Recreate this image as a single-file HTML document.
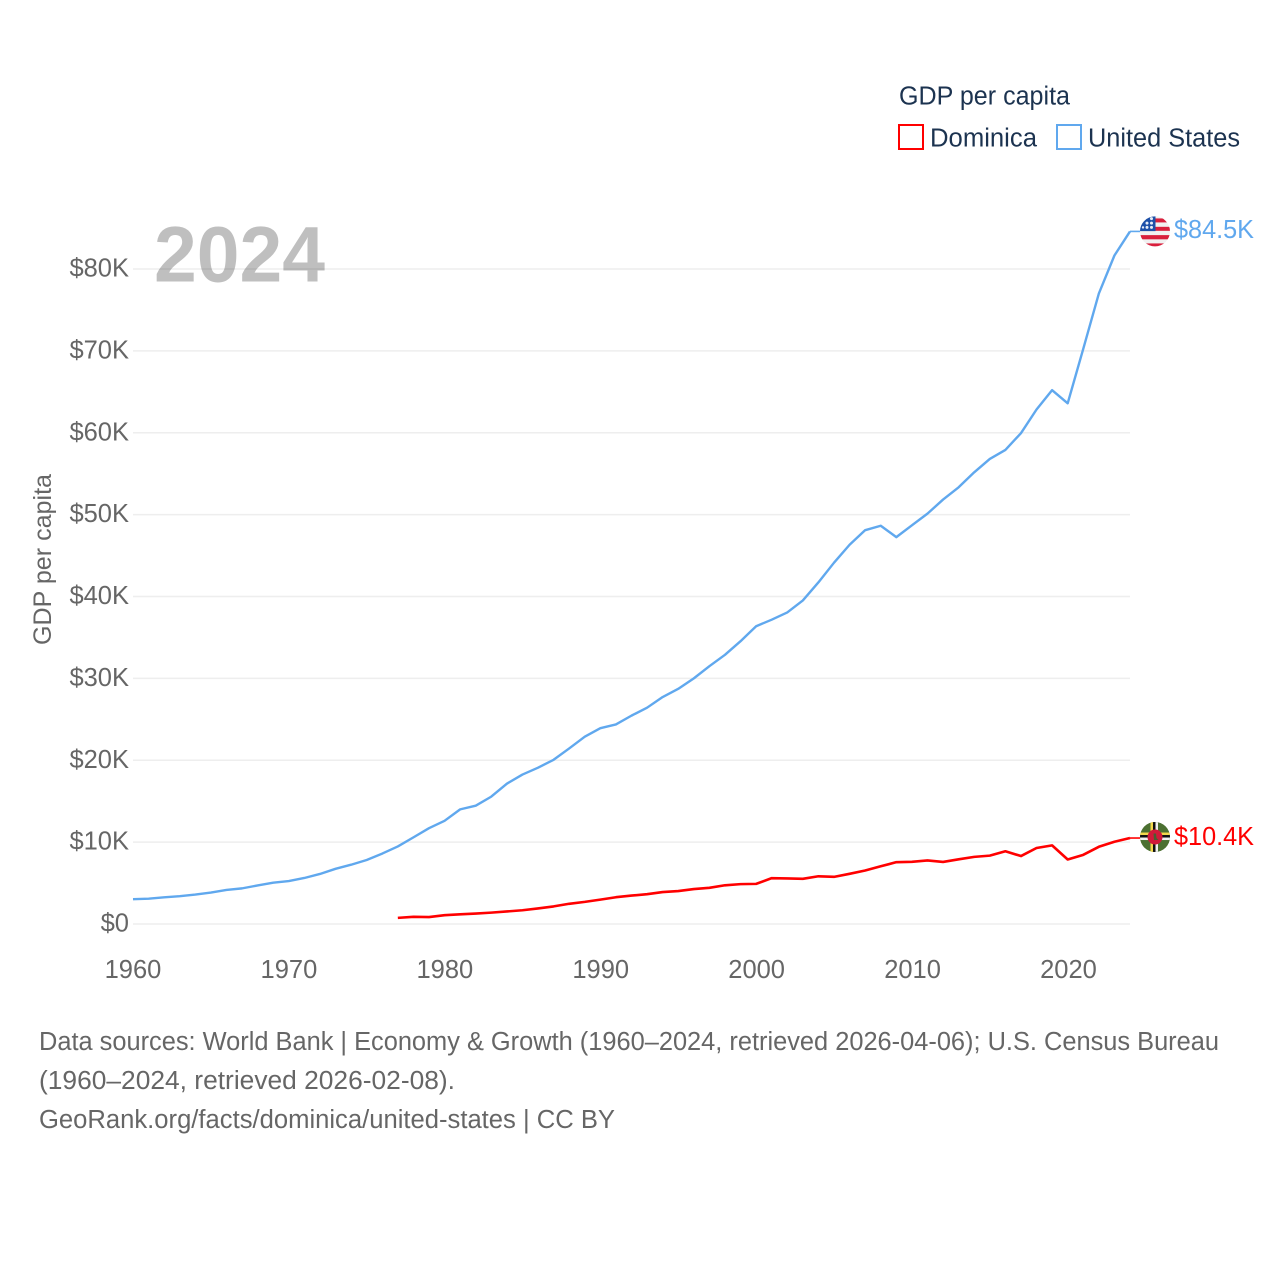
<!DOCTYPE html>
<html lang="en">
<head>
<meta charset="utf-8">
<title>GDP per capita: Dominica and United States</title>
<style>
html,body{margin:0;padding:0;background:#fff}
svg{display:block}
text{font-family:"Liberation Sans",sans-serif}
</style>
</head>
<body>
<svg id="chart" xmlns="http://www.w3.org/2000/svg" width="1280" height="1280" viewBox="0 0 1280 1280">
  <defs>
    <clipPath id="flag-clip-us"><circle cx="1155" cy="231.3" r="15"/></clipPath>
    <clipPath id="flag-clip-dm"><circle cx="1155" cy="837" r="15"/></clipPath>
  </defs>
  <g id="grid"></g>
  <g id="y-ticks"></g>
  <g id="x-ticks"></g>
  <text x="154" y="281.5" font-size="79" font-weight="700" fill="#000000" fill-opacity="0.25" textLength="171" lengthAdjust="spacingAndGlyphs">2024</text>
  <text transform="translate(51,645) rotate(-90)" font-size="25" fill="#666666" textLength="171" lengthAdjust="spacingAndGlyphs">GDP per capita</text>
  <g id="series"></g>
  <g id="flags">
    <g id="flag-us">
      <g clip-path="url(#flag-clip-us)">
        <rect x="1140" y="216" width="30" height="31" fill="#f1f1f1"/>
        <rect x="1155" y="218.3" width="15" height="4" fill="#d91f3c"/>
        <rect x="1155" y="226.7" width="15" height="4" fill="#d91f3c"/>
        <rect x="1140" y="235" width="30" height="4.2" fill="#d91f3c"/>
        <rect x="1140" y="243.3" width="30" height="4" fill="#d91f3c"/>
        <rect x="1140" y="216" width="15.5" height="15" fill="#1e50a8"/>
        <g fill="#e8edf6">
          <circle cx="1151.5" cy="218.5" r="1.5"/>
          <circle cx="1147" cy="223" r="1.5"/>
          <circle cx="1151.5" cy="223" r="1.5"/>
          <circle cx="1147" cy="227.3" r="1.5"/>
          <circle cx="1151.5" cy="227.3" r="1.5"/>
          <circle cx="1143" cy="227.3" r="1.2"/>
        </g>
      </g>
    </g>
    <g id="flag-dm">
      <g clip-path="url(#flag-clip-dm)">
        <rect x="1140" y="822" width="30" height="30" fill="#4c7031"/>
        <rect x="1140" y="832.5" width="30" height="2.5" fill="#f3d84c"/>
        <rect x="1140" y="835" width="30" height="2.5" fill="#111111"/>
        <rect x="1140" y="837.5" width="30" height="2.5" fill="#f1f1f1"/>
        <rect x="1150.5" y="822" width="2.5" height="30" fill="#f3d84c"/>
        <rect x="1153" y="822" width="2.5" height="30" fill="#111111"/>
        <rect x="1155.5" y="822" width="2.5" height="30" fill="#f1f1f1"/>
        <circle cx="1155" cy="837" r="7.5" fill="#d01a3a"/>
        <path d="M1153.5 833.5 L1156 833.5 L1156.5 838 L1158.5 840 L1154 840 Z" fill="#4a5c30"/>
      </g>
    </g>
  </g>
  <g id="end-labels"></g>
  <g>
    <text x="899" y="104.5" font-size="25.5" fill="#1c3350" textLength="171" lengthAdjust="spacingAndGlyphs">GDP per capita</text>
    <g>
      <rect x="899" y="125" width="24" height="24" fill="#fff" stroke="#ff0000" stroke-width="2"/>
      <text x="930" y="146.3" font-size="25.5" fill="#1c3350" textLength="107" lengthAdjust="spacingAndGlyphs">Dominica</text>
    </g>
    <g>
      <rect x="1057" y="125" width="24" height="24" fill="#fff" stroke="#60a8ee" stroke-width="2"/>
      <text x="1088" y="146.3" font-size="25.5" fill="#1c3350" textLength="152" lengthAdjust="spacingAndGlyphs">United States</text>
    </g>
  </g>
  <g font-size="25.5" fill="#666666">
    <text x="39" y="1050" textLength="1180" lengthAdjust="spacingAndGlyphs">Data sources: World Bank | Economy &amp; Growth (1960–2024, retrieved 2026-04-06); U.S. Census Bureau</text>
    <text x="39" y="1089" textLength="416" lengthAdjust="spacingAndGlyphs">(1960–2024, retrieved 2026-02-08).</text>
    <text x="39" y="1128" textLength="576" lengthAdjust="spacingAndGlyphs">GeoRank.org/facts/dominica/united-states | CC BY</text>
  </g>
</svg>
<script>
var yTickValues = [0, 10000, 20000, 30000, 40000, 50000, 60000, 70000, 80000];
var yTickLabels = ["$0", "$10K", "$20K", "$30K", "$40K", "$50K", "$60K", "$70K", "$80K"];
var xTickYears = [1960, 1970, 1980, 1990, 2000, 2010, 2020];
var usStartYear = 1960;
var usValues = [3030, 3090, 3260, 3390, 3590, 3840, 4160, 4350, 4710, 5050, 5250, 5620, 6110, 6740, 7240, 7820, 8600, 9470, 10580, 11700, 12600, 14000, 14450, 15560, 17140, 18250, 19090, 20060, 21440, 22880, 23920, 24370, 25450, 26420, 27720, 28720, 30000, 31490, 32880, 34540, 36370, 37170, 38050, 39520, 41730, 44130, 46320, 48100, 48640, 47250, 48700, 50120, 51840, 53340, 55170, 56800, 57900, 59950, 62840, 65200, 63600, 70250, 77000, 81650, 84590];
var usEndLabel = ["$84.5K"];
var dominicaStartYear = 1977;
var dominicaValues = [750, 880, 850, 1080, 1180, 1270, 1390, 1530, 1680, 1900, 2150, 2470, 2700, 2980, 3270, 3470, 3640, 3900, 4020, 4270, 4420, 4730, 4870, 4900, 5600, 5570, 5520, 5830, 5760, 6130, 6530, 7050, 7550, 7600, 7760, 7580, 7900, 8200, 8350, 8880, 8300, 9280, 9600, 7880, 8450, 9430, 10050, 10500];
var dominicaEndLabel = ["$10.4K"];

var NS = "http://www.w3.org/2000/svg";
function xScale(year) { return 133 + (year - 1960) * (1130 - 133) / 64; }
function yScale(value) { return 924 - value * 655 / 80000; }
function make(tag, parent, attrs) {
  var el = document.createElementNS(NS, tag);
  for (var k in attrs) { el.setAttribute(k, attrs[k]); }
  parent.appendChild(el);
  return el;
}
function pathFor(startYear, values) {
  return values.map(function (v, i) {
    return (i ? "L" : "M") + xScale(startYear + i).toFixed(2) + " " + yScale(v).toFixed(2);
  }).join(" ");
}
var gridG = document.getElementById("grid");
var yG = document.getElementById("y-ticks");
var xG = document.getElementById("x-ticks");
var seriesG = document.getElementById("series");
var labelG = document.getElementById("end-labels");
var lastYear = xScale(2024);

yTickValues.forEach(function (v, i) {
  var line = make("line", gridG, { x1: 133, x2: lastYear, y1: yScale(v), y2: yScale(v), stroke: "#eeeeee", "stroke-width": 1.6 });
  
  
  var t = make("text", yG, { x: 129, y: yScale(v) + 7.6, "text-anchor": "end", "font-size": 25.5, fill: "#666666" });
  
  
  t.textContent = yTickLabels[i];
});
xTickYears.forEach(function (year) {
  var t = make("text", xG, { x: xScale(year) + (year - 1960) * 0.013, y: 978, "text-anchor": "middle", "font-size": 25.5, fill: "#666666" });
  
  
  t.textContent = year;
});

var usLine = make("path", seriesG, { d: pathFor(usStartYear, usValues), fill: "none", stroke: "#60a8ee", "stroke-width": 2.4, "stroke-linejoin": "round" });


var dmLine = make("path", seriesG, { d: pathFor(dominicaStartYear, dominicaValues), fill: "none", stroke: "#ff0000", "stroke-width": 2.6, "stroke-linejoin": "round" });



var usLastY = yScale(usValues[usValues.length - 1]);
var dmLastY = yScale(dominicaValues[dominicaValues.length - 1]);
var usLeader = make("line", seriesG, { x1: lastYear, x2: 1140, y1: usLastY, y2: usLastY, stroke: "#60a8ee", "stroke-width": 1.6 });


var dmLeader = make("line", seriesG, { x1: lastYear, x2: 1140, y1: dmLastY, y2: dmLastY, stroke: "#ff0000", "stroke-width": 1.6 });



var usLabel = make("text", labelG, { x: 1174, y: usLastY + 6.8, "font-size": 26, fill: "#60a8ee", textLength: 80, lengthAdjust: "spacingAndGlyphs" });


usLabel.textContent = usEndLabel[0];
var dmLabel = make("text", labelG, { x: 1174, y: dmLastY + 7, "font-size": 26, fill: "#ff0000", textLength: 80, lengthAdjust: "spacingAndGlyphs" });


dmLabel.textContent = dominicaEndLabel[0];

// Flags follow the final value of each series.
document.getElementById("flag-us").setAttribute("transform", "translate(0," + (usLastY - 231.3).toFixed(2) + ")");
document.getElementById("flag-dm").setAttribute("transform", "translate(0," + (dmLastY - 838).toFixed(2) + ")");
</script>
</body>
</html>
